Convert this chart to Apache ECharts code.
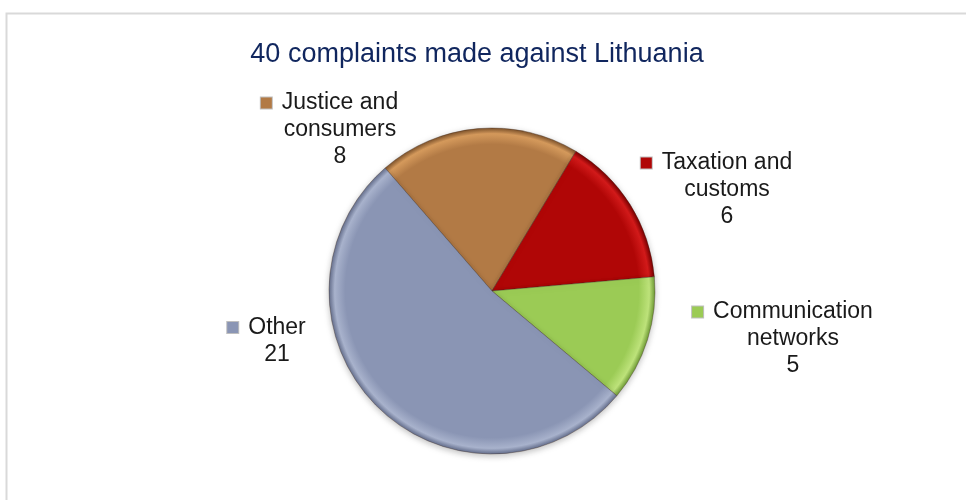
<!DOCTYPE html>
<html>
<head>
<meta charset="utf-8">
<script src="https://cdn.jsdelivr.net/npm/echarts@6/dist/echarts.min.js"></script>
<style>
  html, body { margin: 0; padding: 0; background: #fff; }
  #complaints_chart { width: 966px; height: 500px; }
</style>
</head>
<body>
<div id="complaints_chart"></div>
<script>
// data
var titleText = '40 complaints made against Lithuania';
var categories = ['Justice and\nconsumers', 'Taxation and\ncustoms', 'Communication\nnetworks', 'Other'];
var values = [8, 6, 5, 21];

// slice colours: base, rim highlight, edge shade
var baseColors = ['#B27A45', '#B00606', '#9BCB55', '#8A95B4'];
var rimColors = ['#D59A5C', '#D21A1A', '#BDE27A', '#A8B2CC'];
var edgeColors = ['#7E522B', '#780000', '#6E9A35', '#646E8C'];

// label centres (text block)
var labelPos = [[340, 130], [727, 190], [793, 339], [277, 341]];

var cx = 492, cy = 291, rad = 163;

function sliceFill(i) {
	return {
		type: 'radial', x: cx, y: cy, r: rad, global: true,
		colorStops: [
			{ offset: 0, color: baseColors[i] },
			{ offset: 0.9, color: baseColors[i] },
			{ offset: 0.965, color: rimColors[i] },
			{ offset: 1, color: edgeColors[i] }
		]
	};
}

var chartObj = echarts.init(document.getElementById('complaints_chart'));

var pieData = categories.map(function (name, i) {
	return {
		name: name,
		value: values[i],
		itemStyle: { color: sliceFill(i) },
		label: { rich: { sq: { backgroundColor: baseColors[i] } } }
	};
});

var option = {
	backgroundColor: '#fff',
	animation: false,
	title: {
		text: titleText,
		left: 472,
		top: 36,
		textAlign: 'center',
		textStyle: {
			color: '#10265E',
			fontFamily: 'Liberation Sans, Arial, sans-serif',
			fontSize: 27,
			fontWeight: 'normal'
		}
	},
	graphic: [{
		type: 'rect',
		shape: { x: 6.5, y: 13.5, width: 980, height: 520 },
		style: { fill: 'none', stroke: '#d9d9d9', lineWidth: 2 },
		silent: true,
		z: -1
	}],
	series: [{
		type: 'pie',
		center: [cx, cy],
		radius: [0, rad],
		startAngle: 131,
		clockwise: true,
		data: pieData,
		itemStyle: {
			borderColor: 'rgba(60,40,30,0.35)',
			borderWidth: 1,
			shadowBlur: 6,
			shadowColor: 'rgba(0,0,0,0.25)',
			shadowOffsetY: 2
		},
		labelLine: { show: false },
		label: {
			show: true,
			position: 'outside',
			align: 'center',
			color: '#1a1a1a',
			fontFamily: 'Liberation Sans, Arial, sans-serif',
			fontSize: 23,
			lineHeight: 27,
			formatter: function (p) {
				var lines = p.name.split('\n');
				lines[0] = '{sq|}{gap|}' + lines[0] + '{pad|}';
				return lines.join('\n') + '\n' + p.value;
			},
			rich: {
				sq: { width: 11, height: 11, borderColor: 'rgba(0,0,0,0.25)', borderWidth: 1 },
				gap: { width: 10 },
				pad: { width: 21 }
			}
		},
		labelLayout: function (params) {
			var pos = labelPos[params.dataIndex];
			return { x: pos[0], y: pos[1], align: 'center', verticalAlign: 'middle' };
		}
	}]
};

chartObj.setOption(option);
</script>
</body>
</html>
